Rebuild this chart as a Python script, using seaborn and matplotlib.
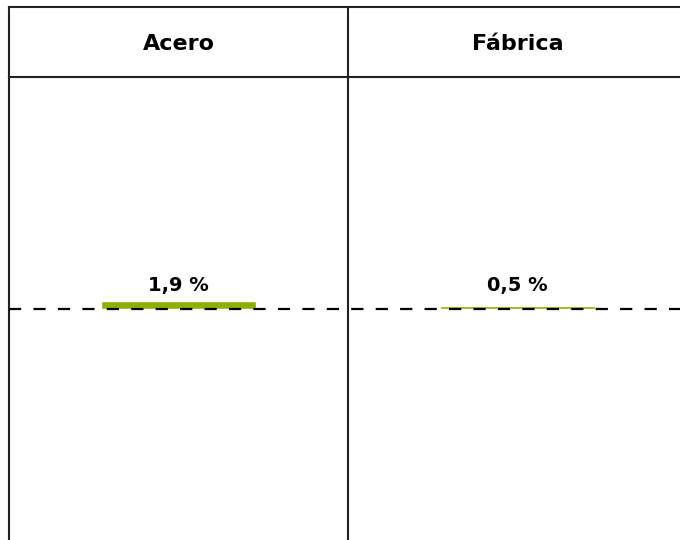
import matplotlib
matplotlib.use("Agg")
import matplotlib.pyplot as plt
import seaborn as sns
import pandas as pd

sns.set_style("white")
plt.rcParams['font.family'] = ['DejaVu Sans']
plt.rcParams['text.color'] = 'black'

# data
categories = ["Acero", "Fábrica"]
values = [1.9, 0.5]
value_labels = ["1,9 %", "0,5 %"]

df = pd.DataFrame({"categoria": categories, "valor": values})

W, H = 680, 540
fig = plt.figure(figsize=(W / 100, H / 100), dpi=100)

left_px = 9
header_top, header_bot = 7, 77
panel_px = 339
line_col = "#222222"
green = "#8db000"

# main chart area
ax = fig.add_axes([left_px / W, 0, 1 - left_px / W, (H - header_bot) / H])
sns.barplot(data=df, x="categoria", y="valor", color=green, saturation=1,
            width=0.46, ax=ax, zorder=2)
xmax = -0.5 + (W - left_px) / panel_px
ax.set_xlim(-0.5, xmax)
ax.set_ylim(-55, 55)
ax.axhline(0, color="black", lw=1.6, ls=(0, (5.5, 5.5)), zorder=3)
ax.axvline(0.5, color=line_col, lw=1.5)
# labels all sit at the same height above the zero line
for i, lab in enumerate(value_labels):
    ax.annotate(lab, (i, 0), xytext=(0, 9.5), textcoords="offset points",
                ha="center", va="bottom", fontsize=14, fontweight="bold",
                color="black")
ax.set_xticks([])
ax.set_yticks([])
ax.set_xlabel("")
ax.set_ylabel("")
for s in ["top", "right", "bottom"]:
    ax.spines[s].set_visible(False)
ax.spines["left"].set_color(line_col)
ax.spines["left"].set_linewidth(1.5)

# header row
hx = fig.add_axes([left_px / W, (H - header_bot) / H, 1 - left_px / W,
                   (header_bot - header_top) / H])
hx.set_xlim(-0.5, xmax)
hx.set_ylim(0, 1)
hx.axvline(0.5, color=line_col, lw=1.5)
for i, c in enumerate(categories):
    hx.text(i, 0.47, c, ha="center", va="center", fontsize=16,
            fontweight="bold", color="black")
hx.set_xticks([])
hx.set_yticks([])
hx.spines["right"].set_visible(False)
for s in ["top", "bottom", "left"]:
    hx.spines[s].set_color(line_col)
    hx.spines[s].set_linewidth(1.5)

fig.savefig("out.png", dpi=100)
